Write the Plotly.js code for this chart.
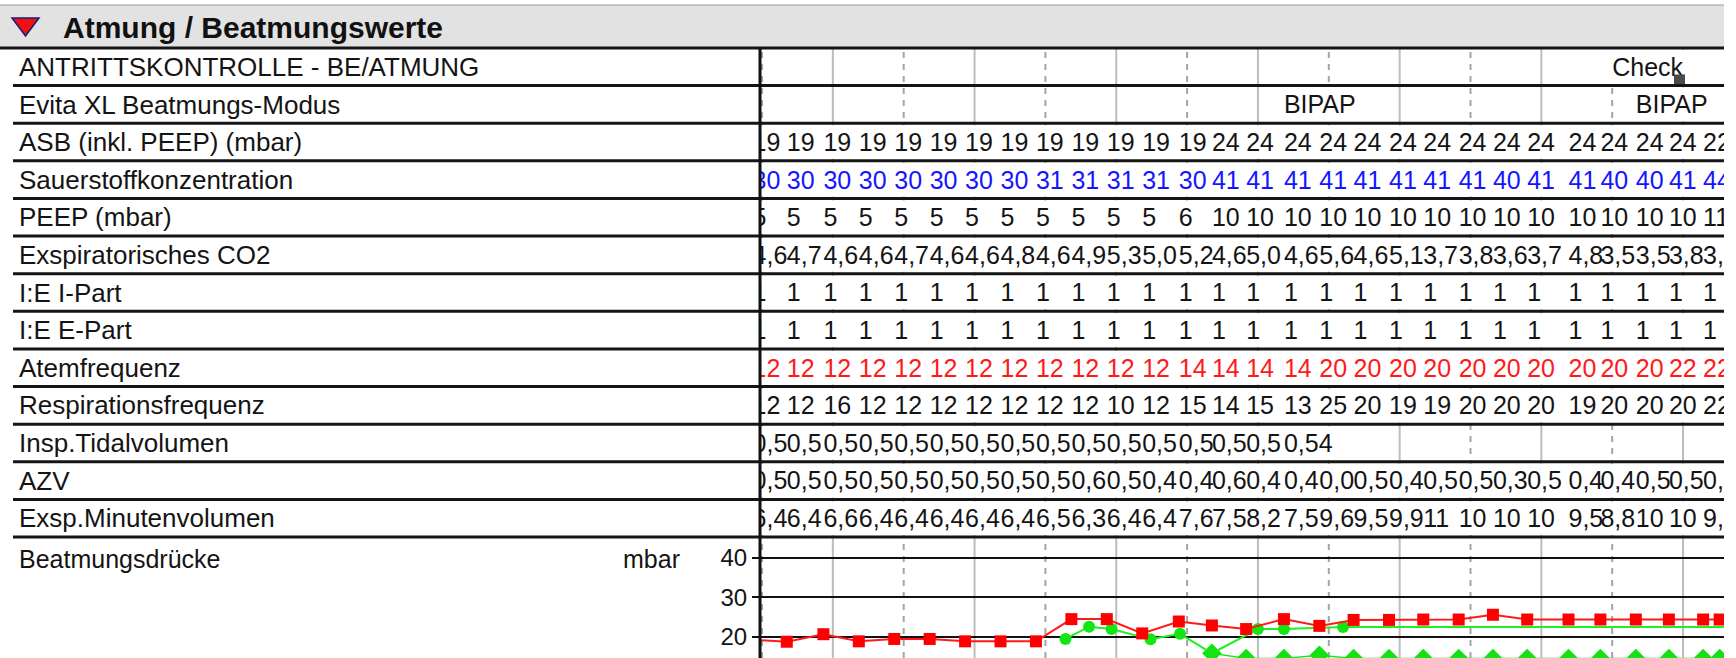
<!DOCTYPE html>
<html><head><meta charset="utf-8">
<script src="https://cdn.plot.ly/plotly-3.0.1.min.js"></script>
<style>html,body{margin:0;padding:0;background:#fff;overflow:hidden}#chart{width:1736px;height:658px}</style>
</head><body><div id="chart"></div>
<script>
// ---------------- data ----------------
const sectionTitle = "Atmung / Beatmungswerte";
const rowLabels = ["ANTRITTSKONTROLLE - BE/ATMUNG","Evita XL Beatmungs-Modus","ASB (inkl. PEEP) (mbar)",
  "Sauerstoffkonzentration","PEEP (mbar)","Exspiratorisches CO2","I:E I-Part","I:E E-Part","Atemfrequenz",
  "Respirationsfrequenz","Insp.Tidalvolumen","AZV","Exsp.Minutenvolumen"];
const chartLabel = "Beatmungsdrücke";
const chartUnit = "mbar";

// measurement times (minutes after the first hour line)
const times = [-8,21,52,82,112,142,172,202,232,262,292,322,353,381,410,442,472,501,531,560,590,619,648,683,710,740,768,797,811];

const checkTimes = [720];
const checkText = ["Check"];
const noteTimes = [777];
const modeTimes = [442, 740];
const modeText = ["BIPAP", "BIPAP"];

const asb  = [19,19,19,19,19,19,19,19,19,19,19,19,19,24,24,24,24,24,24,24,24,24,24,24,24,24,24,22];
const o2   = [30,30,30,30,30,30,30,30,31,31,31,31,30,41,41,41,41,41,41,41,41,40,41,41,40,40,41,44];
const peep = [5,5,5,5,5,5,5,5,5,5,5,5,6,10,10,10,10,10,10,10,10,10,10,10,10,10,10,11];
const co2  = [4.6,4.7,4.6,4.6,4.7,4.6,4.6,4.8,4.6,4.9,5.3,5.0,5.2,4.6,5.0,4.6,5.6,4.6,5.1,3.7,3.8,3.6,3.7,4.8,3.5,3.5,3.8,3.3];
const ieI  = [1,1,1,1,1,1,1,1,1,1,1,1,1,1,1,1,1,1,1,1,1,1,1,1,1,1,1,1];
const ieE  = [1,1,1,1,1,1,1,1,1,1,1,1,1,1,1,1,1,1,1,1,1,1,1,1,1,1,1,1];
const af   = [12,12,12,12,12,12,12,12,12,12,12,12,14,14,14,14,20,20,20,20,20,20,20,20,20,20,22,22];
const rf   = [12,12,16,12,12,12,12,12,12,12,10,12,15,14,15,13,25,20,19,19,20,20,20,19,20,20,20,22];
const tidal = [0.5,0.5,0.5,0.5,0.5,0.5,0.5,0.5,0.5,0.5,0.5,0.5,0.5,0.5,0.5,0.54];
const azv  = [0.5,0.5,0.5,0.5,0.5,0.5,0.5,0.5,0.5,0.6,0.5,0.4,0.4,0.6,0.4,0.4,0.0,0.5,0.4,0.5,0.5,0.3,0.5,0.4,0.4,0.5,0.5,0.5];
const mv   = [6.4,6.4,6.6,6.4,6.4,6.4,6.4,6.4,6.5,6.3,6.4,6.4,7.6,7.5,8.2,7.5,9.6,9.5,9.9,11,10,10,10,9.5,8.8,10,10,9.1];

// Beatmungsdrücke chart (mbar)
const peakPressure = [19.3,18.8,20.7,18.9,19.5,19.5,18.9,18.9,18.9,24.5,24.5,20.9,23.9,22.9,22.0,24.5,22.8,24.3,24.3,24.4,24.4,25.6,24.4,24.4,24.4,24.4,24.4,24.4,24.4];
const meanTimes = [257,277,296,329,354,381,420,442,492,900];
const meanPressure = [19.5,22.6,22.0,19.4,20.8,15.9,22.0,22.0,22.5,22.5];
const lowTimes = [381,410,442,472,501,531,560,590,619,648,683,710,740,768,797,811];
const lowPressure = [15.9,14.6,14.6,15.4,14.6,14.6,14.6,14.6,14.6,14.6,14.6,14.6,14.6,14.6,14.6,14.6];

// ---------------- layout helpers ----------------
const W = 1736, H = 658;
const TABLE_TOP = 48, TABLE_BOTTOM = 537, PLOT_RIGHT = 1724, DIVIDER = 760;
const nRows = rowLabels.length;
const ROWH = (TABLE_BOTTOM - TABLE_TOP) / nRows;
const PXMIN = 70.85 / 60;            // pixels per minute
const X0MIN = (DIVIDER - 762) / PXMIN; // minute at divider
const X1MIN = (PLOT_RIGHT - 762) / PXMIN;
const FONT = '"Liberation Sans", Arial, sans-serif';
const TXT = '#141414';
const px = p => p / W;
const py = p => 1 - p / H;
const rowTop = i => TABLE_TOP + i * ROWH;
const P_RANGE = [14.7, 45.2];

const dec1 = v => v.toFixed(1).replace('.', ',');
const plain = v => String(v).replace('.', ',');
const mvFmt = v => v >= 10 ? v.toFixed(0) : dec1(v);

const tableRows = [
  {row: 0, t: checkTimes, v: checkText, f: String, c: TXT},
  {row: 1, t: modeTimes, v: modeText, f: String, c: TXT},
  {row: 2, t: times, v: asb, f: plain, c: TXT},
  {row: 3, t: times, v: o2, f: plain, c: '#1515ff'},
  {row: 4, t: times, v: peep, f: plain, c: TXT},
  {row: 5, t: times, v: co2, f: dec1, c: TXT},
  {row: 6, t: times, v: ieI, f: plain, c: TXT},
  {row: 7, t: times, v: ieE, f: plain, c: TXT},
  {row: 8, t: times, v: af, f: plain, c: '#ff1a1a'},
  {row: 9, t: times, v: rf, f: plain, c: TXT},
  {row: 10, t: times, v: tidal, f: plain, c: TXT},
  {row: 11, t: times, v: azv, f: dec1, c: TXT},
  {row: 12, t: times, v: mv, f: mvFmt, c: TXT}
];

const data = [];
// row labels (left column)
data.push({type:'scatter', mode:'text', xaxis:'x2', yaxis:'y',
  x: rowLabels.map(() => 19), y: rowLabels.map((_, i) => i), text: rowLabels,
  textposition:'middle right', textfont:{family:FONT, size:26, color:TXT}, hoverinfo:'skip', cliponaxis:false});
// chart label + unit (left column, level of the top tick)
data.push({type:'scatter', mode:'text', xaxis:'x2', yaxis:'y3',
  x: [19, 623], y: [39, 39], text: [chartLabel, chartUnit],
  textposition:'middle right', textfont:{family:FONT, size:25, color:TXT}, hoverinfo:'skip', cliponaxis:false});
// table values
tableRows.forEach(r => {
  data.push({type:'scatter', mode:'text', xaxis:'x', yaxis:'y',
    x: r.t.slice(0, r.v.length), y: r.v.map(() => r.row), text: r.v.map(r.f),
    textposition:'middle right', textfont:{family:FONT, size:25, color:r.c}, hoverinfo:'skip'});
});
// note marker in row 0
data.push({type:'scatter', mode:'markers', xaxis:'x', yaxis:'y', x: noteTimes, y: noteTimes.map(() => 0.28),
  marker:{symbol:'square', size:11, color:'#4a4a4a'}, hoverinfo:'skip'});
// pressure chart
data.push({type:'scatter', mode:'lines+markers', xaxis:'x', yaxis:'y2', x: lowTimes, y: lowPressure,
  line:{color:'#19e619', width:1.5}, marker:{symbol:'diamond', size:15, color:'#14e014'}, hoverinfo:'skip'});
data.push({type:'scatter', mode:'lines+markers', xaxis:'x', yaxis:'y2', x: meanTimes, y: meanPressure,
  line:{color:'#22ee22', width:2}, marker:{symbol:'circle', size:12, color:'#14e614'}, hoverinfo:'skip'});
data.push({type:'scatter', mode:'lines+markers', xaxis:'x', yaxis:'y2', x: times, y: peakPressure,
  line:{color:'#ff1a1a', width:2}, marker:{symbol:'square', size:12, color:'#ff0000'}, hoverinfo:'skip'});

// ---------------- shapes ----------------
const shapes = [];
// hour grid lines (dashed / solid alternating)
for (let k = 0; k * 60 <= X1MIN; k++) {
  const dashed = k % 2 === 0;
  shapes.push({type:'line', layer:'below', xref:'x', yref:'paper', x0:k*60, x1:k*60, y0:0, y1:py(TABLE_TOP),
    line:{color: dashed ? '#a4a4a4' : '#bdbdbd', width: 2, dash: dashed ? '6px,6px' : 'solid'}});
}
// white cell backgrounds hiding the grid where rows hold values
const cover = (row, a, b) => shapes.push({type:'rect', layer:'below', xref:'x', yref:'paper',
  x0:a, x1:b, y0:py(rowTop(row + 1) - 2), y1:py(rowTop(row) + 2), fillcolor:'#fff', line:{width:0}});
cover(0, checkTimes[0] - 6, X1MIN + 20);
cover(1, modeTimes[0] - 4, times[18]);
cover(1, modeTimes[1] - 4, X1MIN + 20);
tableRows.slice(2).forEach(r => {
  const end = r.v.length >= times.length - 1 ? X1MIN + 20 : times[r.v.length + 1];
  cover(r.row, X0MIN - 20, end);
});
// header band
shapes.push({type:'rect', layer:'below', xref:'paper', yref:'paper', x0:0, x1:px(PLOT_RIGHT), y0:py(47), y1:py(5),
  fillcolor:'#e2e2e2', line:{width:0}});
shapes.push({type:'line', xref:'paper', yref:'paper', x0:0, x1:px(PLOT_RIGHT), y0:py(5), y1:py(5), line:{color:'#9a9a9a', width:1}});
// row separators
for (let i = 0; i <= nRows; i++) {
  shapes.push({type:'line', xref:'paper', yref:'paper', x0: i === 0 ? 0 : px(13), x1:px(PLOT_RIGHT),
    y0:py(rowTop(i)), y1:py(rowTop(i)), line:{color:'#151515', width:3}});
}
// divider between labels and time grid
shapes.push({type:'line', xref:'paper', yref:'paper', x0:px(DIVIDER), x1:px(DIVIDER), y0:0, y1:py(TABLE_TOP),
  line:{color:'#111', width:3}});
// collapse triangle
shapes.push({type:'path', xref:'paper', yref:'paper',
  path:`M ${px(12)},${py(18)} L ${px(39)},${py(18)} L ${px(25.5)},${py(36)} Z`,
  fillcolor:'#ee1111', line:{color:'#1b1b7a', width:1.5}});

const layout = {
  width: W, height: H, margin:{l:0, r:0, t:0, b:0}, showlegend:false,
  paper_bgcolor:'#fff', plot_bgcolor:'#fff',
  title:{text: sectionTitle, x: px(63), xanchor:'left', xref:'paper', y: py(27), yanchor:'middle', yref:'paper',
    font:{family:FONT, size:30, weight:700, color:'#111'}},
  xaxis:{domain:[px(DIVIDER), px(PLOT_RIGHT)], range:[X0MIN, X1MIN], visible:false, anchor:'y'},
  xaxis2:{domain:[0, px(DIVIDER)], range:[0, DIVIDER], visible:false, anchor:'y'},
  yaxis:{domain:[py(TABLE_BOTTOM), py(TABLE_TOP)], range:[nRows - 0.5 - 0.07, -0.5 - 0.07], visible:false, anchor:'x'},
  yaxis2:{domain:[0, py(TABLE_BOTTOM)], range:P_RANGE, anchor:'x', tick0:0, dtick:10,
    showgrid:true, gridcolor:'#111', gridwidth:2, zeroline:false, showline:false,
    ticks:'outside', ticklen:7, tickwidth:2, tickcolor:'#111',
    tickfont:{family:FONT, size:24, color:TXT}},
  yaxis3:{domain:[0, py(TABLE_BOTTOM)], range:P_RANGE, anchor:'x2', visible:false},
  shapes: shapes
};

Plotly.newPlot('chart', data, layout, {staticPlot:true});
</script>
</body></html>
